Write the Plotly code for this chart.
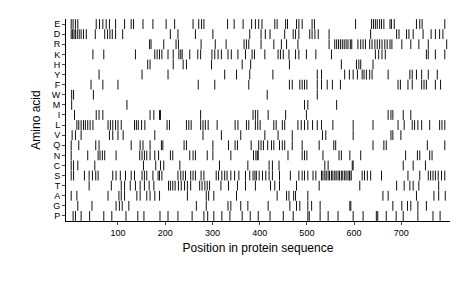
import plotly.graph_objects as go

amino_acids = ["E", "D", "R", "K", "H", "Y", "F", "W", "M", "I",
               "L", "V", "Q", "N", "C", "S", "T", "A", "G", "P"]
x_ticks = [100, 200, 300, 400, 500, 600, 700]

pos_E = [1, 5, 10, 15, 54, 61, 68, 75, 82, 95, 114, 128, 133, 153, 174, 202, 220, 259, 271, 277, 282,
         332, 346, 365, 383, 391, 398, 405, 432, 437, 455, 459, 478, 483, 490, 511, 516, 603, 637, 641,
         645, 649, 654, 658, 663, 676, 679, 685, 732, 739, 744, 792]
pos_D = [1, 4, 7, 10, 14, 18, 22, 27, 33, 52, 72, 78, 83, 88, 95, 110, 211, 227, 264, 301, 379, 403,
         412, 422, 453, 471, 476, 483, 506, 511, 517, 524, 547, 635, 690, 695, 711, 716, 725, 746, 763,
         772, 781, 788]
pos_R = [167, 170, 197, 223, 228, 276, 306, 329, 367, 372, 377, 403, 430, 446, 457, 481, 547, 559, 563,
         567, 571, 575, 579, 583, 587, 592, 595, 608, 614, 619, 624, 633, 638, 644, 649, 654, 659, 665,
         670, 676, 680, 701, 720, 737, 757, 796]
pos_K = [47, 70, 137, 178, 183, 188, 193, 206, 217, 229, 233, 236, 252, 269, 275, 299, 305, 312, 319,
         333, 340, 354, 370, 384, 389, 411, 439, 444, 450, 462, 476, 483, 499, 519, 552, 645, 652, 659,
         666, 753, 757, 772, 792]
pos_H = [163, 168, 217, 238, 245, 298, 363, 381, 463, 573, 605, 610, 614, 640]
pos_Y = [60, 151, 206, 326, 351, 379, 428, 522, 531, 580, 590, 598, 607, 617, 621, 626, 633, 638, 672,
         718, 723, 732, 743, 757, 776]
pos_F = [43, 68, 100, 270, 305, 377, 463, 469, 485, 490, 495, 500, 522, 531, 543, 554, 571, 693, 698,
         714, 723, 743, 748, 753, 772, 783]
pos_W = [2, 6, 48, 416, 522]
pos_M = [2, 119, 495, 502, 563]
pos_I = [8, 54, 60, 68, 168, 176, 188, 190, 275, 386, 391, 396, 418, 455, 499, 672, 678, 682, 704, 720]
pos_L = [13, 17, 22, 27, 31, 36, 41, 47, 79, 84, 89, 95, 100, 107, 135, 139, 143, 150, 157, 204, 209,
         245, 250, 255, 275, 280, 285, 291, 310, 348, 354, 372, 377, 391, 396, 401, 430, 435, 448, 453,
         481, 488, 495, 502, 512, 522, 531, 555, 598, 640, 693, 706, 723, 728, 735, 743, 760, 781, 786,
         792]
pos_V = [3, 10, 22, 82, 89, 100, 111, 178, 280, 319, 360, 411, 439, 469, 533, 540, 598, 678, 682, 699]
pos_Q = [1, 17, 53, 60, 128, 147, 153, 168, 192, 195, 240, 245, 301, 334, 348, 353, 382, 398, 403, 408,
         417, 425, 430, 442, 448, 453, 469, 490, 526, 557, 561, 640, 663, 668, 755, 792]
pos_N = [1, 36, 58, 62, 67, 72, 96, 146, 151, 156, 161, 168, 178, 186, 211, 216, 252, 259, 264, 289,
         301, 339, 395, 387, 392, 397, 460, 490, 495, 500, 534, 568, 573, 591, 614, 709, 734, 739, 760,
         765]
pos_C = [1, 6, 15, 51, 154, 180, 190, 197, 231, 315, 375, 420, 427, 441, 538, 545, 596, 598, 704, 725,
         751]
pos_S = [1, 6, 29, 39, 46, 53, 58, 89, 96, 105, 116, 128, 135, 151, 156, 161, 174, 185, 188, 193, 227,
         233, 238, 243, 254, 259, 264, 276, 282, 308, 313, 320, 326, 331, 339, 347, 356, 370, 379, 390,
         386, 393, 399, 406, 413, 420, 427, 442, 465, 483, 490, 495, 502, 513, 519, 531, 534, 538, 541,
         545, 548, 552, 555, 559, 562, 566, 569, 573, 576, 580, 583, 587, 591, 594, 590, 617, 622, 628,
         635, 658, 714, 739, 757, 762, 767, 772, 778, 785, 792]
pos_T = [39, 86, 107, 114, 126, 137, 147, 156, 166, 176, 207, 211, 216, 221, 228, 234, 241, 247, 254,
         273, 278, 284, 289, 294, 318, 334, 353, 370, 391, 423, 432, 442, 478, 526, 612, 690, 706, 718,
         725, 737, 779]
pos_A = [1, 13, 79, 102, 107, 114, 140, 147, 161, 168, 178, 188, 247, 287, 292, 303, 351, 437, 457, 462,
         472, 476, 502, 661, 672, 732, 769, 779, 793]
pos_G = [15, 45, 96, 103, 109, 123, 266, 287, 333, 339, 360, 375, 418, 464, 478, 485, 502, 510, 528,
         591, 593, 682, 701, 713, 720, 735, 753]
pos_P = [5, 10, 22, 40, 70, 87, 117, 142, 155, 189, 206, 227, 257, 282, 290, 303, 320, 337, 363, 380,
         397, 422, 450, 471, 502, 505, 528, 545, 566, 598, 619, 647, 650, 668, 689, 704, 735, 767, 782]

positions = {"E": pos_E, "D": pos_D, "R": pos_R, "K": pos_K, "H": pos_H, "Y": pos_Y, "F": pos_F,
             "W": pos_W, "M": pos_M, "I": pos_I, "L": pos_L, "V": pos_V, "Q": pos_Q, "N": pos_N,
             "C": pos_C, "S": pos_S, "T": pos_T, "A": pos_A, "G": pos_G, "P": pos_P}

xs, ys = [], []
for aa in amino_acids:
    for p in positions[aa]:
        xs.append(p)
        ys.append(aa)

fig = go.Figure(go.Scatter(
    x=xs, y=ys, mode="markers",
    marker=dict(symbol="line-ns", size=7, line=dict(width=1, color="#111111"), color="#111111"),
    hoverinfo="x+y",
))

fig.update_layout(
    width=460, height=299,
    margin=dict(l=58, r=18, t=11, b=86),
    paper_bgcolor="white", plot_bgcolor="white",
    showlegend=False,
    font=dict(family="Liberation Sans, Arial, sans-serif", color="black", size=9),
    xaxis=dict(
        range=[-10, 803], tickvals=x_ticks, ticks="outside", ticklen=3, tickwidth=1,
        showline=True, linecolor="black", linewidth=1, showgrid=False, zeroline=False,
        tickfont=dict(size=9, color="black"),
        title=dict(text="Position in protein sequence", font=dict(size=12, color="black"), standoff=6),
    ),
    yaxis=dict(
        categoryorder="array", categoryarray=amino_acids[::-1], range=[-0.5, 19.5],
        tickmode="array", tickvals=amino_acids, ticktext=amino_acids,
        ticks="outside", ticklen=3, tickwidth=1,
        showline=True, linecolor="black", linewidth=1, showgrid=False, zeroline=False,
        tickfont=dict(size=9, color="black"),
        title=dict(text="Amino acid", font=dict(size=12, color="black"), standoff=8),
    ),
)

fig.write_html("out.html")
